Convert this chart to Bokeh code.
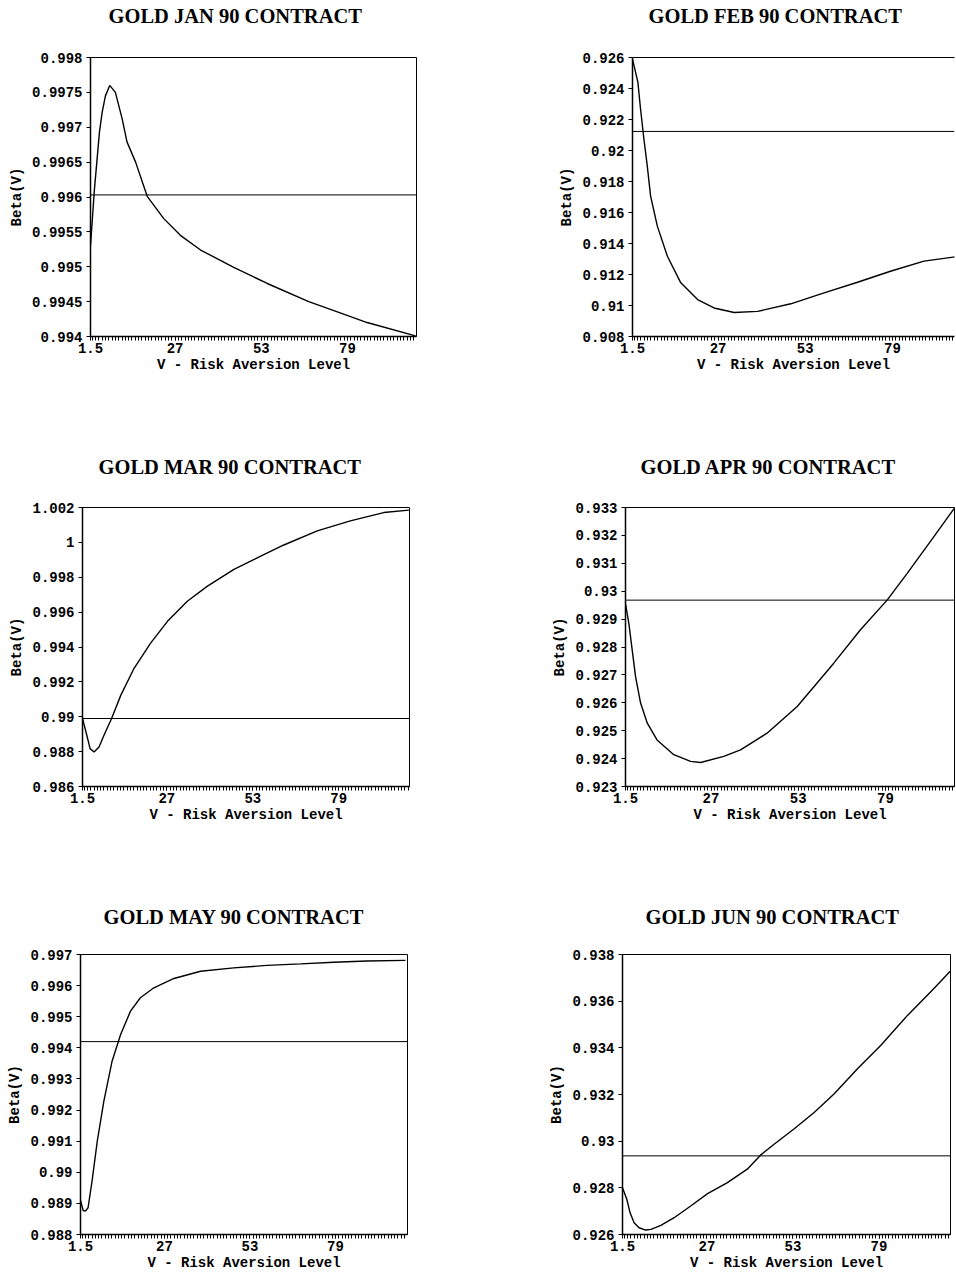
from bokeh.plotting import figure
from bokeh.layouts import column, row
from bokeh.models import (FixedTicker, CustomJSTickFormatter, Span, LinearAxis,
                          Range1d)
from bokeh.embed import file_html
from bokeh.resources import INLINE

# ---------------- data ----------------
titles = ["GOLD JAN 90 CONTRACT", "GOLD FEB 90 CONTRACT", "GOLD MAR 90 CONTRACT",
          "GOLD APR 90 CONTRACT", "GOLD MAY 90 CONTRACT", "GOLD JUN 90 CONTRACT"]
x_label = "V - Risk Aversion Level"
y_label = "Beta(V)"
x_ticks = [1.5, 27, 53, 79]

v_jan = [1.5, 2.7, 3.5, 4.2, 5.0, 6.0, 7.3, 9.0, 11.05, 12.5, 15.1, 18.6, 23.6, 28.6,
         34.7, 44.7, 54.8, 67.3, 74.9, 84.9, 99.5]
beta_jan = [0.99530, 0.99612, 0.99655, 0.99693, 0.99721, 0.99745, 0.99760, 0.99750,
            0.99712, 0.99679, 0.99650, 0.99601, 0.99569, 0.99545, 0.99524, 0.99499,
            0.99476, 0.99450, 0.99437, 0.99420, 0.99401]
ref_jan = 0.99603
yticks_jan = [0.994, 0.9945, 0.995, 0.9955, 0.996, 0.9965, 0.997, 0.9975, 0.998]

v_feb = [1.5, 3.1, 3.9, 4.9, 5.9, 6.9, 8.9, 11.9, 15.9, 20.9, 25.8, 31.8, 38.8, 48.7,
         58.6, 68.6, 78.4, 88.4, 97.8]
beta_feb = [0.92590, 0.92441, 0.92268, 0.92074, 0.91901, 0.91706, 0.91512, 0.91318,
            0.91146, 0.91038, 0.90984, 0.90955, 0.90962, 0.91011, 0.91081, 0.91150,
            0.91221, 0.91286, 0.91314]
ref_feb = 0.92123
yticks_feb = [0.908, 0.91, 0.912, 0.914, 0.916, 0.918, 0.92, 0.922, 0.924, 0.926]

v_mar = [1.5, 2.8, 3.8, 5.0, 6.5, 8.0, 10.3, 13.1, 17.1, 22.1, 27.2, 33.2, 39.3, 47.3,
         55.4, 62.4, 72.5, 82.5, 92.6, 100.2]
beta_mar = [0.98990, 0.98894, 0.98817, 0.98798, 0.98827, 0.98894, 0.98990, 0.99124,
            0.99278, 0.99422, 0.99547, 0.99662, 0.99749, 0.99845, 0.99921, 0.99985,
            1.00066, 1.00123, 1.00171, 1.00185]
ref_mar = 0.98990
yticks_mar = [0.986, 0.988, 0.99, 0.992, 0.994, 0.996, 0.998, 1.0, 1.002]

v_apr = [1.5, 2.5, 3.5, 4.5, 6.0, 8.0, 10.9, 15.9, 20.9, 23.9, 30.8, 35.8, 43.7, 52.7,
         63.6, 71.5, 79.5, 85.5, 93.4, 99.6]
beta_apr = [0.92955, 0.92885, 0.92789, 0.92694, 0.92599, 0.92527, 0.92467, 0.92414,
            0.92390, 0.92386, 0.92408, 0.92431, 0.92491, 0.92587, 0.92742, 0.92861,
            0.92968, 0.93064, 0.93195, 0.93298]
ref_apr = 0.92968
yticks_apr = [0.923, 0.924, 0.925, 0.926, 0.927, 0.928, 0.929, 0.93, 0.931, 0.932, 0.933]

v_may = [1.5, 2.3, 3.0, 3.8, 5.0, 6.6, 8.6, 11.1, 13.7, 16.7, 19.7, 23.8, 29.9, 38.0,
         48.1, 58.2, 68.4, 78.5, 88.6, 100.3]
beta_may = [0.98910, 0.98877, 0.98875, 0.98886, 0.98971, 0.99100, 0.99229, 0.99357,
            0.99443, 0.99518, 0.99561, 0.99593, 0.99623, 0.99646, 0.99657, 0.99665,
            0.99670, 0.99675, 0.99679, 0.99681]
ref_may = 0.99420
yticks_may = [0.988, 0.989, 0.99, 0.991, 0.992, 0.993, 0.994, 0.995, 0.996, 0.997]

v_jun = [1.5, 2.8, 3.8, 5.0, 6.5, 8.5, 10.1, 13.1, 17.1, 22.1, 27.2, 33.2, 39.2, 43.2,
         47.3, 53.3, 59.4, 65.4, 72.5, 79.5, 87.6, 95.6, 100.5]
beta_jun = [0.92800, 0.92751, 0.92693, 0.92650, 0.92629, 0.92619, 0.92622, 0.92639,
            0.92672, 0.92722, 0.92775, 0.92822, 0.92880, 0.92940, 0.92987, 0.93052,
            0.93123, 0.93202, 0.93310, 0.93410, 0.93539, 0.93654, 0.93728]
ref_jun = 0.92937
yticks_jun = [0.926, 0.928, 0.93, 0.932, 0.934, 0.936, 0.938]

# ---------------- styling ----------------
MONO = "Liberation Mono"
SERIF = "Liberation Serif"
fmt_code = "return String(Number(tick.toFixed(6)));"


def style_text(obj, prefix):
    setattr(obj, prefix + "_text_font", MONO)
    setattr(obj, prefix + "_text_font_size", "14px")
    setattr(obj, prefix + "_text_font_style", "bold")
    setattr(obj, prefix + "_text_color", "black")


def make(title, v, beta, ref, yticks, xmax, W, H, L, R, T, B, toff, pad,
         open_right=False):
    p = figure(width=W, height=H, x_range=Range1d(1.5, xmax),
               y_range=Range1d(yticks[0], yticks[-1]),
               output_backend="svg", toolbar_location=None,
               min_border_left=L, min_border_right=R, min_border_top=T,
               min_border_bottom=B, background_fill_color="white",
               border_fill_color="white")
    p.xgrid.visible = False
    p.ygrid.visible = False

    xa = p.below[0]
    xa.ticker = FixedTicker(ticks=x_ticks, minor_ticks=list(range(2, int(xmax) + 1)))
    xa.formatter = CustomJSTickFormatter(code=fmt_code)
    xa.axis_line_width = 1.5
    xa.major_tick_out = 4
    xa.major_tick_in = 0
    xa.minor_tick_out = 4
    xa.minor_tick_in = 0
    xa.major_label_standoff = 2
    style_text(xa, "major_label")
    xa.axis_label = x_label
    xa.axis_label_standoff = 1
    style_text(xa, "axis_label")

    ya = p.left[0]
    ya.ticker = FixedTicker(ticks=yticks, minor_ticks=[])
    ya.formatter = CustomJSTickFormatter(code=fmt_code)
    ya.axis_line_width = 1.5
    ya.major_tick_out = 4
    ya.major_tick_in = 0
    ya.minor_tick_out = 0
    ya.minor_tick_in = 0
    ya.major_label_standoff = 4
    style_text(ya, "major_label")
    ya.axis_label = y_label
    ya.axis_label_standoff = 4
    style_text(ya, "axis_label")

    # spacer axis above the frame (pushes the title up; draws top border for Feb)
    top = LinearAxis(ticker=FixedTicker(ticks=[]), major_tick_out=0,
                     major_tick_in=0, minor_tick_out=0, minor_tick_in=0,
                     major_tick_line_color=None, minor_tick_line_color=None,
                     major_label_text_font_size="10px", major_label_standoff=0,
                     axis_label="|", axis_label_text_alpha=0,
                     axis_label_text_font_size="10px",
                     axis_label_standoff=pad - 12,
                     axis_line_color="black" if open_right else None,
                     axis_line_width=1)
    p.add_layout(top, "above")

    if open_right:
        p.outline_line_color = None
    else:
        p.outline_line_color = "black"
        p.outline_line_width = 1
        p.outline_line_alpha = 1

    p.title.text = title
    p.title.align = "left"
    p.title.offset = toff
    p.title.standoff = 0
    p.title.text_font = SERIF
    p.title.text_font_size = "20.5px"
    p.title.text_font_style = "bold"
    p.title.text_color = "black"

    p.add_layout(Span(location=ref, dimension="width", line_color="black", line_width=1))
    p.line(v, beta, line_color="black", line_width=1.4)
    return p


# row 1: frames y 57..336
p1 = make(titles[0], v_jan, beta_jan, ref_jan, yticks_jan, 99.8,
          550, 452, 90, 134, 57, 116, 18, 29)
p2 = make(titles[1], v_feb, beta_feb, ref_feb, yticks_feb, 97.5,
          405, 452, 82, 1, 57, 116, 16, 29, open_right=True)
# row 2: frames y 507..786
p3 = make(titles[2], v_mar, beta_mar, ref_mar, yticks_mar, 100.4,
          543, 448, 82, 134, 55, 114, 16, 28)
p4 = make(titles[3], v_apr, beta_apr, ref_apr, yticks_apr, 99.6,
          412, 448, 82, 1, 55, 114, 15, 28)
# row 3: frames y 954..1234
p5 = make(titles[4], v_may, beta_may, ref_may, yticks_may, 100.9,
          542, 374, 80, 135, 54, 40, 23, 25)
p6 = make(titles[5], v_jun, beta_jun, ref_jun, yticks_jun, 100.6,
          413, 374, 80, 5, 54, 40, 23, 25)

layout = column(row(p1, p2, spacing=0), row(p3, p4, spacing=0), row(p5, p6, spacing=0),
                spacing=0)

with open("out.html", "w") as f:
    f.write(file_html(layout, INLINE))
